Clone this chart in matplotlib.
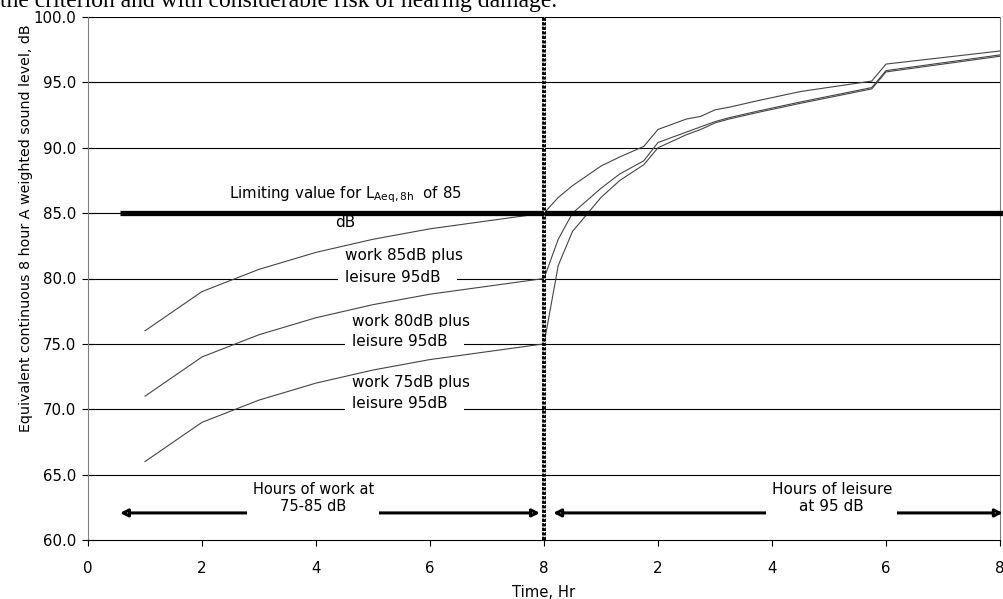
import numpy as np
import matplotlib
matplotlib.use("Agg")
import matplotlib.pyplot as plt

plt.rcParams['font.family'] = ['DejaVu Sans']
plt.rcParams['lines.scale_dashes'] = False

# ---- data ----
work_hours = [1, 2, 3, 4, 5, 6, 7, 8]
work_85 = [76.0, 79.0, 80.7, 82.0, 83.0, 83.8, 84.4, 85.0]
work_80 = [71.0, 74.0, 75.7, 77.0, 78.0, 78.8, 79.4, 80.0]
work_75 = [66.0, 69.0, 70.7, 72.0, 73.0, 73.8, 74.4, 75.0]

leisure_hours = [0, 0.25, 0.5, 1.0, 1.33, 1.75, 2.0, 2.5, 2.75, 3.0, 3.25, 3.75, 4.5, 5.75, 6.0, 8.0]
leisure_85 = [85.0, 86.2, 87.1, 88.6, 89.3, 90.1, 91.4, 92.2, 92.4, 92.9, 93.1, 93.6, 94.3, 95.1, 96.4, 97.4]
leisure_80 = [80.0, 83.0, 85.0, 86.9, 88.0, 89.0, 90.4, 91.2, 91.6, 92.0, 92.3, 92.8, 93.5, 94.6, 95.9, 97.1]
leisure_75 = [75.0, 81.0, 83.6, 86.2, 87.5, 88.7, 90.0, 91.0, 91.4, 91.9, 92.2, 92.7, 93.4, 94.5, 95.8, 97.0]

work_end = 8
limit_db = 85
x_ticks = [0, 2, 4, 6, 8, 10, 12, 14, 16]
x_tick_labels = ['0', '2', '4', '6', '8', '2', '4', '6', '8']
y_ticks = [60, 65, 70, 75, 80, 85, 90, 95, 100]

# ---- figure ----
fig = plt.figure(figsize=(10.04, 5.99), dpi=100)
ax = fig.add_axes([88/1004, 1-540/599, (1000-88)/1004, (540-17)/599])

ax.set_xlim(0, 16)
ax.set_ylim(60, 100)

for yv in y_ticks[1:]:
    ax.axhline(yv, color='black', lw=0.8, zorder=1)

line_color = '#444444'
for wv, lv in [(work_85, leisure_85), (work_80, leisure_80), (work_75, leisure_75)]:
    xs = list(work_hours) + [work_end + h for h in leisure_hours]
    ys = list(wv) + list(lv)
    ax.plot(xs, ys, color=line_color, lw=0.8, zorder=3)

# limit line
ax.plot([0.56, 16.07], [limit_db, limit_db], color='black', lw=3.8, zorder=4,
        clip_on=False, solid_capstyle='butt')

# vertical separator (dotted squares)
ax.axvline(work_end, color='black', lw=2.8, ls=(0, (2.4, 0.85)), zorder=5)
ax.axvline(work_end, color='white', lw=0.8, ls=(0.9, (0.9, 2.35)), zorder=6)

# spines and ticks
ax.spines['top'].set_visible(False)
ax.spines['left'].set_color('#808080')
ax.spines['right'].set_color('#808080')
ax.spines['bottom'].set_color('black')
ax.set_xticks(x_ticks)
ax.set_xticklabels(x_tick_labels)
ax.set_yticks(y_ticks)
ax.set_yticklabels([f'{v:.1f}' for v in y_ticks])
ax.tick_params(axis='x', direction='out', length=4, width=0.8, labelsize=10.8, pad=11)
ax.tick_params(axis='y', direction='inout', length=9, width=0.8, labelsize=10.8, pad=4)
ax.set_xlabel('Time, Hr', fontsize=10.6, labelpad=6.5)
fig.text(26/1004, 1 - 228/599, 'Equivalent continuous 8 hour A weighted sound level, dB',
         rotation=90, ha='center', va='center', fontsize=10.3)

fs = 11
ax.text(4.52, 86.4, r'Limiting value for L$_{\mathregular{Aeq,8h}}$  of 85', ha='center', va='center',
        fontsize=10.8, zorder=7)
ax.text(4.52, 84.3, 'dB', ha='center', va='center', fontsize=fs, zorder=7)

box = dict(boxstyle='square,pad=0.45', fc='white', ec='none')
labels = [('work 85dB plus', 4.51, 81.75, 80.05),
          ('work 80dB plus', 4.63, 76.7, 75.2),
          ('work 75dB plus', 4.63, 72.05, 70.45)]
for txt, xl, y1, y2 in labels:
    ax.text(xl, y1, txt, ha='left', va='center', fontsize=fs, zorder=2)
    ax.text(xl, y2, 'leisure 95dB  ', ha='left', va='center', fontsize=fs, zorder=2, bbox=box)

# arrows
arrow_y = 62.07
aprops = dict(arrowstyle='<|-|>', lw=2.2, color='black', fc='white', mutation_scale=11,
              shrinkA=0, shrinkB=0)
ax.annotate('', xy=(0.56, arrow_y), xytext=(7.93, arrow_y), arrowprops=aprops, zorder=6)
ax.annotate('', xy=(8.16, arrow_y), xytext=(16.05, arrow_y), arrowprops=aprops,
            zorder=6, annotation_clip=False)

hbox = dict(boxstyle='square,pad=0.35', fc='white', ec='none')
ax.text(3.95, 63.2, 'Hours of work at\n75-85 dB', ha='center', va='center', fontsize=10.5,
        linespacing=1.15, bbox=hbox, zorder=8)
ax.text(13.05, 63.2, 'Hours of leisure\nat 95 dB', ha='center', va='center', fontsize=11,
        linespacing=1.15, bbox=hbox, zorder=8)

# cut-off caption text at top
fig.text(0.0, 1 - 6.5/599, 'the criterion and with considerable risk of hearing damage.',
         family='Liberation Serif', fontsize=17, va='baseline', ha='left')

fig.savefig('out.png', dpi=100)
